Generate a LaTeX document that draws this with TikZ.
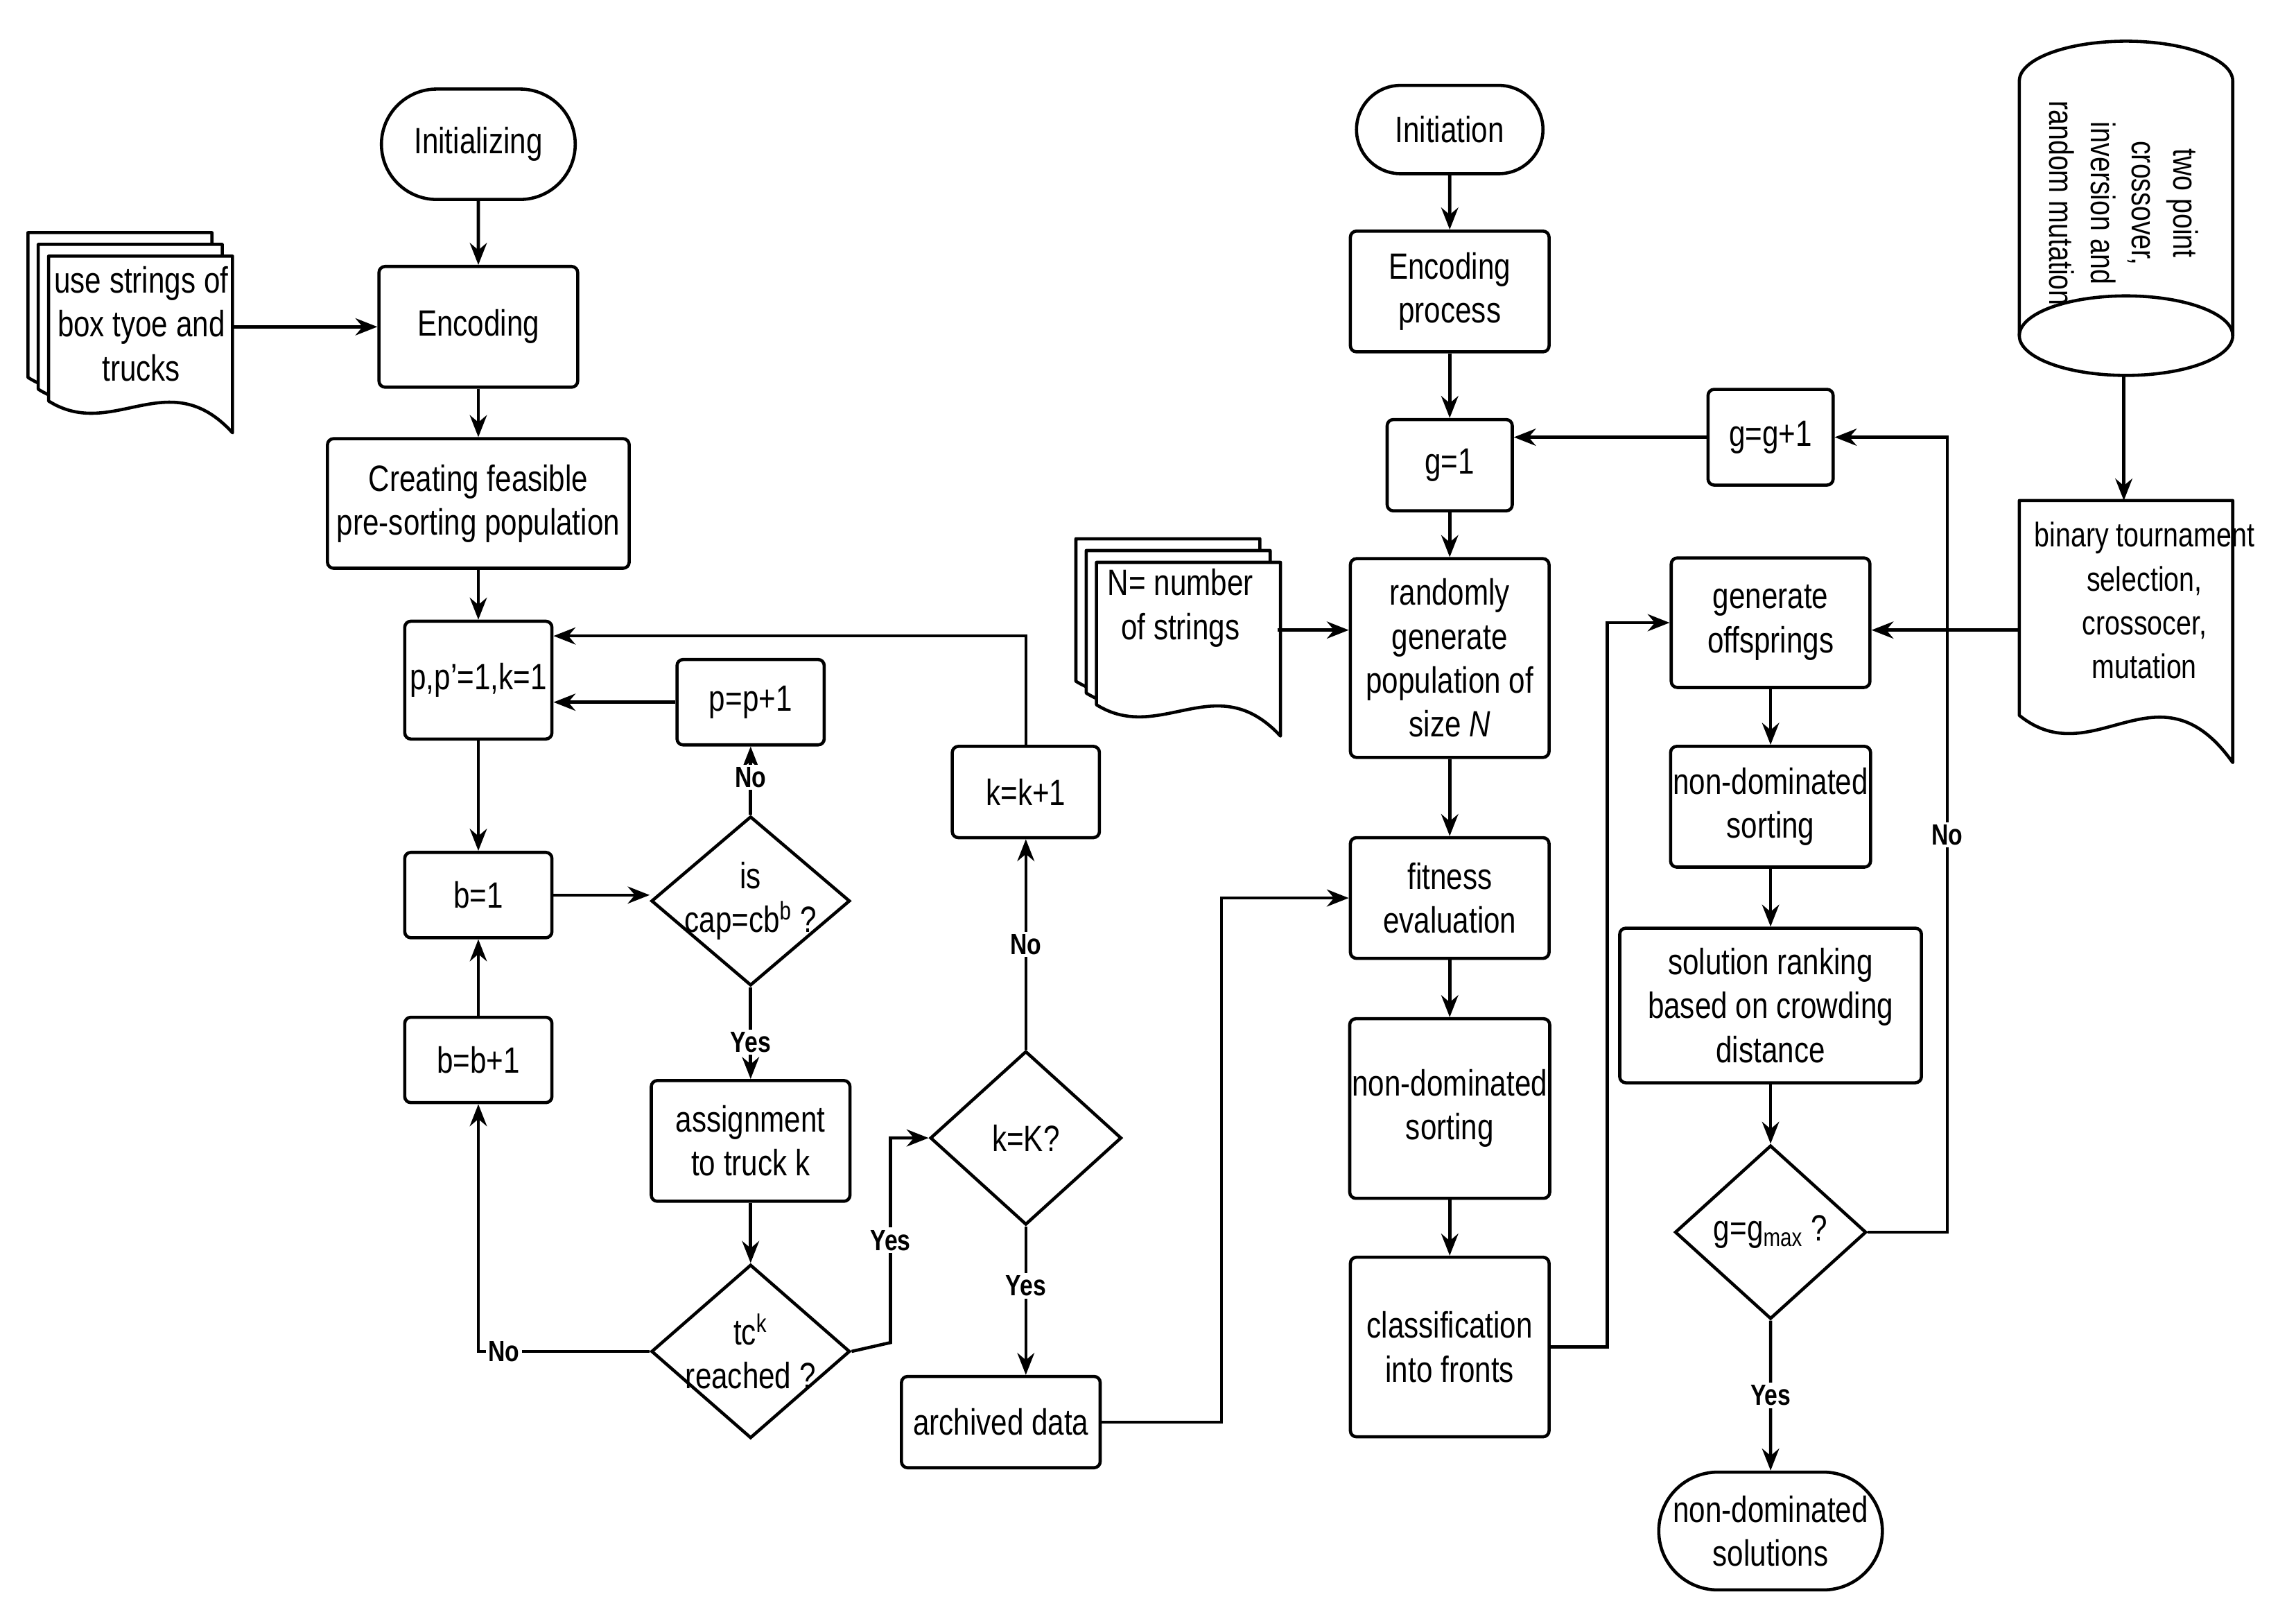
\documentclass[tikz,border=0pt]{standalone}
\usepackage{fontspec}
\setmainfont{Liberation Sans}[FakeStretch=0.8]
\usetikzlibrary{shapes.geometric,shapes.misc,arrows.meta}
\begin{document}
\begin{tikzpicture}[x=0.02123cm,y=-0.02123cm,line width=1.3pt,
  >={Stealth[length=9pt,width=7pt]},
  every node/.style={font=\fontsize{15}{18}\selectfont},
  b/.style n args={2}{draw,rounded corners=2.5pt,minimum width=#1*0.02123cm,minimum height=#2*0.02123cm,align=center,inner sep=1pt},
  t/.style n args={2}{draw,rounded rectangle,minimum width=#1*0.02123cm,minimum height=#2*0.02123cm,align=center,inner sep=1pt},
  d/.style n args={2}{draw,diamond,minimum width=#1*0.02123cm,minimum height=#2*0.02123cm,align=center,inner sep=-12pt},
  lb/.style={font=\fontsize{12}{14}\selectfont\bfseries,fill=white,inner sep=1pt}]
\useasboundingbox (0,0) rectangle (1560,1098);
\newcommand\mydoc[4]{\draw[fill=white,line join=round] (#1,#2) -- ({#1+#3},#2) -- ({#1+#3},{#2+#4}) .. controls ({#1+0.65*#3},{#2+0.6*#4}) and ({#1+0.35*#3},{#2+1.05*#4}) .. (#1,{#2+0.82*#4}) -- cycle;}
% left doc stack
\mydoc{19}{158}{125}{120}\mydoc{26}{166}{125}{120}\mydoc{33}{174}{125}{120}
\node[align=center] (us) at (96,220) {use strings of\\box tyoe and\\trucks};
% N doc stack
\mydoc{731}{366}{125}{118}\mydoc{738}{374}{125}{118}\mydoc{745}{382}{125}{118}
\node[align=center] (nd) at (802,413) {N= number\\of strings};
% binary doc
\mydoc{1372}{340}{145}{178}
\node[align=center,font=\fontsize{14}{18}\selectfont] (bt) at (1457,408) {binary tournament\\selection,\\crossocer,\\mutation};
% cylinder
\draw (1372,55) arc[start angle=180,end angle=360,x radius=72.5,y radius=27] -- (1517,228) arc[start angle=0,end angle=180,x radius=72.5,y radius=27] -- cycle;
\draw (1372,228) arc[start angle=180,end angle=360,x radius=72.5,y radius=27];
\node[rotate=-90,align=center,font=\fontsize{14}{17}\selectfont] (cy) at (1443,138) {two point\\crossover,\\inversion and\\random mutation};
\coordinate (cyb) at (1443,255);
% left flow
\node[t={135}{75}] (init) at (325,98) {Initializing};
\node[b={135}{82}] (enc) at (325,222) {Encoding};
\node[b={205}{88}] (cre) at (325,342) {Creating feasible\\pre-sorting population};
\node[b={100}{80}] (p) at (325,462) {p,p'=1,k=1};
\node[b={100}{58}] (pp) at (510,477) {p=p+1};
\node[b={100}{58}] (b1) at (325,608) {b=1};
\node[d={135}{115}] (cap) at (510,612) {is\\cap=cb\textsuperscript{b} ?};
\node[b={100}{58}] (bb) at (325,720) {b=b+1};
\node[b={135}{82}] (asg) at (510,775) {assignment\\to truck k};
\node[d={135}{118}] (tc) at (510,918) {tc\textsuperscript{k}\\reached ?};
\node[b={100}{62}] (kk) at (697,538) {k=k+1};
\node[d={130}{118}] (kK) at (697,773) {k=K?};
\node[b={135}{62}] (arc) at (680,966) {archived data};
% middle
\node[t={130}{60}] (ini2) at (985,88) {Initiation};
\node[b={135}{82}] (encp) at (985,198) {Encoding\\process};
\node[b={85}{62}] (g1) at (985,316) {g=1};
\node[b={135}{135}] (rnd) at (985,447) {randomly\\generate\\population of\\size \textit{N}};
\node[b={135}{82}] (fit) at (985,610) {fitness\\evaluation};
\node[b={135}{122}] (nds) at (985,753) {non-dominated\\sorting};
\node[b={135}{122}] (cls) at (985,915) {classification\\into fronts};
% right
\node[b={85}{65}] (gg) at (1203,297) {g=g+1};
\node[b={135}{88}] (gen) at (1203,423) {generate\\offsprings};
\node[b={135}{82}] (nd2) at (1203,548) {non-dominated\\sorting};
\node[b={205}{105}] (sr) at (1203,683) {solution ranking\\based on crowding\\distance};
\node[d={130}{118}] (gm) at (1203,837) {g=g\textsubscript{max} ?};
\node[t={128}{80}] (nds2) at (1203,1040) {non-dominated\\solutions};
% edges
\draw[->] (init) -- (enc);
\draw[->] (158,222) -- (enc);
\draw[->] (enc) -- (cre);
\draw[->] (cre) -- (p);
\draw[->] (p) -- (b1);
\draw[->] (b1) -- (b1-|cap.west);
\draw[->] (pp) -- (pp-|p.east);
\draw[->] (cap.north) -- node[lb,pos=0.55]{No} (pp.south);
\draw[->] (cap) -- node[lb,pos=0.6]{Yes} (asg);
\draw[->] (asg) -- (tc);
\draw[->] (tc.west) -- node[lb,pos=0.85]{No} (tc.west-|bb) -- (bb);
\draw[->] (bb) -- (b1);
\draw[->] (tc.east) -- (605,912) -- node[lb,pos=0.5]{Yes} (605,773) -- (kK.west);
\draw[->] (kK) -- node[lb]{No} (kk);
\draw[->] (kk.north) -- (697,432) -- (p.east|-0,432);
\draw[->] (kK) -- node[lb,pos=0.4]{Yes} (arc.north-|kK);
\draw[->] (arc.east) -- (830,966) -- (830,610) -- (fit.west);
\draw[->] (ini2) -- (encp);
\draw[->] (encp) -- (g1);
\draw[->] (g1) -- (rnd);
\draw[->] (868,428) -- (rnd.west|-0,428);
\draw[->] (rnd) -- (fit);
\draw[->] (fit) -- (nds);
\draw[->] (nds) -- (cls);
\draw[->] (cls.east) -- (1092,915) -- (1092,423) -- (gen.west);
\draw[->] (cyb) -- (1443,340);
\draw[->] (1372,428) -- (gen.east|-0,428);
\draw[->] (gen) -- (nd2);
\draw[->] (nd2) -- (sr);
\draw[->] (sr) -- (gm);
\draw[->] (gm.east) -- (1323,837) -- node[lb]{No} (1323,297) -- (gg.east);
\draw[->] (gg.west) -- (gg.west-|g1.east);
\draw[->] (gm) -- node[lb]{Yes} (nds2);
\end{tikzpicture}
\end{document}
